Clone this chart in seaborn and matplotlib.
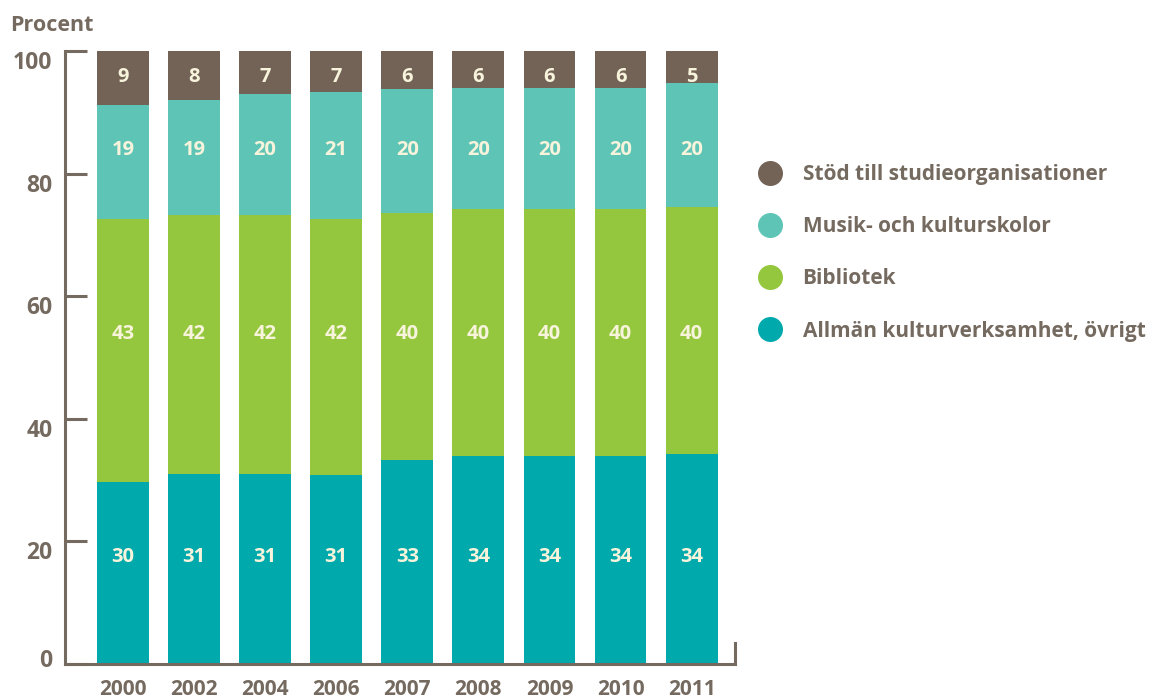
import numpy as np
import pandas as pd
import matplotlib
matplotlib.use("Agg")
import matplotlib.pyplot as plt
import matplotlib.transforms as mtransforms
from matplotlib.lines import Line2D
import seaborn as sns

# ---------------- DATA ----------------
years = ["2000", "2002", "2004", "2006", "2007", "2008", "2009", "2010", "2011"]

# stacked from bottom to top (percent of municipal culture spending)
allman = [29.7, 31.0, 31.0, 30.8, 33.3, 33.9, 33.9, 33.9, 34.3]
bibliotek = [42.9, 42.2, 42.2, 41.8, 40.3, 40.3, 40.3, 40.3, 40.3]
musik = [18.6, 18.8, 19.8, 20.7, 20.2, 19.8, 19.8, 19.8, 20.2]
stod = [8.8, 8.0, 7.0, 6.7, 6.2, 6.0, 6.0, 6.0, 5.2]

# printed labels (rounded)
allman_lbl = [30, 31, 31, 31, 33, 34, 34, 34, 34]
bibliotek_lbl = [43, 42, 42, 42, 40, 40, 40, 40, 40]
musik_lbl = [19, 19, 20, 21, 20, 20, 20, 20, 20]
stod_lbl = [9, 8, 7, 7, 6, 6, 6, 6, 5]

series_names = ["Allmän kulturverksamhet, övrigt", "Bibliotek",
                "Musik- och kulturskolor", "Stöd till studieorganisationer"]

# label rows (layout only), one per layer
LABEL_ROWS = [17.4, 53.8, 83.8, 95.7]

# ---------------- STYLE ----------------
GREY = "#756a5f"
LABEL_COL = "#f8f4dc"
colors = ["#00a9ac", "#94c73d", "#5ec4b6", "#736357"]

sns.set_style("white")
plt.rcParams["font.family"] = ["Open Sans", "DejaVu Sans"]
plt.rcParams["font.weight"] = "bold"

df = pd.DataFrame({"year": years, series_names[0]: allman, series_names[1]: bibliotek,
                   series_names[2]: musik, series_names[3]: stod})
vals = df[series_names].to_numpy()
cum = vals.cumsum(axis=1)

fig = plt.figure(figsize=(11.56, 6.98), dpi=100)
ax = fig.add_axes([0.0562, 0.0487, 0.5796, 0.8782])

# draw cumulative bars from the top layer down
for k in range(len(series_names) - 1, -1, -1):
    sns.barplot(x=df["year"], y=cum[:, k], color=colors[k], width=0.73,
                saturation=1, ax=ax, edgecolor="none", linewidth=0)

labels = [allman_lbl, bibliotek_lbl, musik_lbl, stod_lbl]
for k in range(len(series_names)):
    for i in range(len(years)):
        ax.text(i, LABEL_ROWS[k], str(labels[k][i]), ha="center", va="center",
                color=LABEL_COL, fontsize=14.5, fontweight="bold")

ax.set_xlim(-0.816, 8.61)
ax.set_ylim(0, 100)
ax.set_yticks([0, 20, 40, 60, 80, 100])
ax.set_xlabel("")
ax.set_ylabel("")

ax.spines["top"].set_visible(False)
for s in ["left", "bottom", "right"]:
    ax.spines[s].set_color(GREY)
    ax.spines[s].set_linewidth(2.2)
ax.spines["right"].set_bounds(0, 3.5)

ax.tick_params(axis="y", left=True, direction="in", length=16, width=2.2, color=GREY,
               labelcolor=GREY, labelsize=16.5, pad=9)
ax.tick_params(axis="x", bottom=False, length=0, labelcolor=GREY, labelsize=15, pad=11)
for t in ax.get_yticklabels() + ax.get_xticklabels():
    t.set_fontweight("bold")

# y labels sit a bit below their ticks, the zero a bit above
for t, v in zip(ax.get_yticklabels(), ax.get_yticks()):
    dy = 6 if v == 0 else -9
    t.set_transform(t.get_transform() +
                    mtransforms.ScaledTranslation(0, dy / 100, fig.dpi_scale_trans))

fig.text(0.009, 0.963, "Procent", color=GREY, fontsize=15.5, fontweight="bold",
         ha="left", va="center")

# legend with round markers, top layer first
handles = [Line2D([0], [0], marker="o", linestyle="", markersize=18,
                  markerfacecolor=colors[k], markeredgecolor="none")
           for k in range(len(series_names) - 1, -1, -1)]
leg = fig.legend(handles, series_names[::-1], loc="upper left",
                 bbox_to_anchor=(0.6387, 0.792), frameon=False,
                 labelspacing=1.5, handletextpad=0.98, handlelength=1.2,
                 prop={"size": 15, "weight": "bold"})
for t in leg.get_texts():
    t.set_color(GREY)

fig.savefig("out.png", dpi=100)
